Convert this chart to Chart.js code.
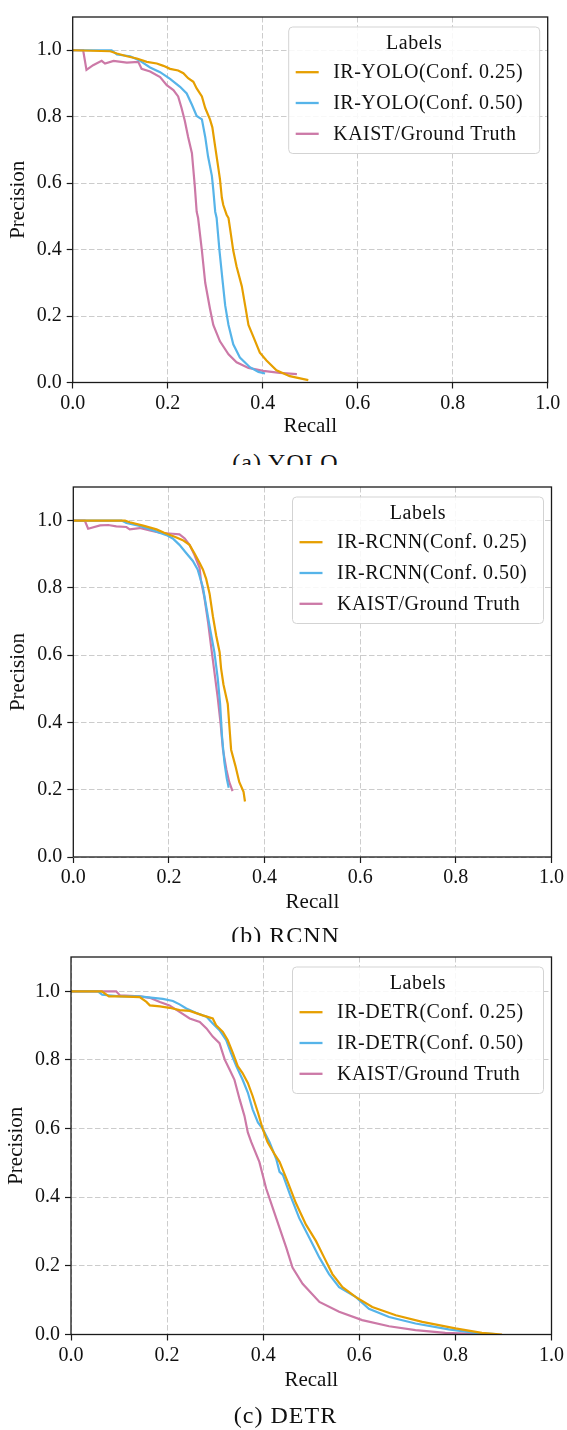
<!DOCTYPE html>
<html>
<head>
<meta charset="utf-8">
<script src="https://cdn.jsdelivr.net/npm/chart.js@4.4.1/dist/chart.umd.min.js"></script>
<style>
  html, body { margin: 0; padding: 0; background: #fff; }
  body { width: 567px; height: 1430px; position: relative; overflow: hidden; }
  canvas { position: absolute; left: 0; }
  .cap { position: absolute; left: 2px; width: 567px; text-align: center; overflow: hidden;
         font-family: "Liberation Serif", "Times New Roman", serif; font-size: 24px; line-height: 24px;
         letter-spacing: 1px; color: #111; white-space: nowrap; }
</style>
</head>
<body>
<canvas id="c1" width="567" height="448" style="top:0px"></canvas>
<div class="cap" style="top:450px;height:15px;">(a) YOLO</div>
<canvas id="c2" width="567" height="455" style="top:470px"></canvas>
<div class="cap" style="top:923px;height:19px;">(b) RCNN</div>
<canvas id="c3" width="567" height="462" style="top:940px"></canvas>
<div class="cap" style="top:1403px;height:30px;">(c) DETR</div>
<script>
// ---------- tick labels ----------
const xTicks = [0, 0.2, 0.4, 0.6, 0.8, 1.0];
const yTicks = [0, 0.2, 0.4, 0.6, 0.8, 1.0];
const legendTitle = 'Labels';
const xTitle = 'Recall';
const yTitle = 'Precision';

// ---------- (a) YOLO ----------
const yoloLabels = ['IR-YOLO(Conf. 0.25)', 'IR-YOLO(Conf. 0.50)', 'KAIST/Ground Truth'];
const yolo25R = [0, 0.079, 0.093, 0.114, 0.135, 0.156, 0.177, 0.191, 0.205, 0.222, 0.233, 0.243, 0.254, 0.261, 0.272, 0.279, 0.289, 0.294, 0.300, 0.305, 0.310, 0.314, 0.317, 0.324, 0.328, 0.331, 0.338, 0.345, 0.356, 0.363, 0.370, 0.380, 0.394, 0.408, 0.429, 0.457, 0.496];
const yolo25P = [1.0, 0.997, 0.990, 0.982, 0.975, 0.965, 0.960, 0.953, 0.944, 0.939, 0.931, 0.916, 0.905, 0.885, 0.861, 0.826, 0.792, 0.768, 0.709, 0.661, 0.612, 0.556, 0.534, 0.505, 0.495, 0.466, 0.397, 0.349, 0.290, 0.232, 0.173, 0.139, 0.090, 0.066, 0.037, 0.019, 0.007];
const yolo50R = [0, 0.082, 0.093, 0.121, 0.142, 0.163, 0.184, 0.205, 0.226, 0.240, 0.251, 0.261, 0.272, 0.279, 0.285, 0.293, 0.296, 0.300, 0.303, 0.309, 0.316, 0.321, 0.328, 0.338, 0.352, 0.373, 0.391, 0.405];
const yolo50P = [1.0, 1.0, 0.987, 0.982, 0.968, 0.948, 0.934, 0.914, 0.890, 0.870, 0.836, 0.802, 0.792, 0.739, 0.680, 0.622, 0.580, 0.514, 0.495, 0.397, 0.300, 0.232, 0.173, 0.115, 0.075, 0.046, 0.032, 0.027];
const yoloGtR = [0, 0.022, 0.029, 0.043, 0.061, 0.068, 0.086, 0.114, 0.138, 0.145, 0.163, 0.184, 0.198, 0.212, 0.222, 0.229, 0.236, 0.243, 0.251, 0.254, 0.257, 0.261, 0.264, 0.272, 0.279, 0.289, 0.296, 0.310, 0.328, 0.345, 0.370, 0.401, 0.436, 0.472];
const yoloGtP = [1.0, 1.0, 0.941, 0.955, 0.968, 0.960, 0.968, 0.963, 0.965, 0.944, 0.936, 0.919, 0.895, 0.880, 0.861, 0.827, 0.788, 0.739, 0.690, 0.641, 0.592, 0.514, 0.495, 0.397, 0.300, 0.222, 0.173, 0.124, 0.085, 0.061, 0.044, 0.035, 0.029, 0.025];

// ---------- (b) RCNN ----------
const rcnnLabels = ['IR-RCNN(Conf. 0.25)', 'IR-RCNN(Conf. 0.50)', 'KAIST/Ground Truth'];
const rcnn25R = [0, 0.108, 0.118, 0.146, 0.174, 0.190, 0.212, 0.229, 0.243, 0.253, 0.264, 0.271, 0.278, 0.285, 0.292, 0.299, 0.306, 0.309, 0.314, 0.323, 0.326, 0.330, 0.339, 0.347, 0.356, 0.359];
const rcnn25P = [1.0, 1.0, 0.995, 0.985, 0.974, 0.964, 0.952, 0.942, 0.928, 0.904, 0.875, 0.855, 0.826, 0.783, 0.715, 0.657, 0.609, 0.561, 0.513, 0.455, 0.397, 0.319, 0.271, 0.223, 0.194, 0.165];
const rcnn50R = [0, 0.101, 0.111, 0.139, 0.167, 0.195, 0.208, 0.222, 0.236, 0.250, 0.260, 0.271, 0.278, 0.285, 0.295, 0.302, 0.307, 0.311, 0.316, 0.321, 0.325];
const rcnn50P = [1.0, 1.0, 0.993, 0.984, 0.971, 0.957, 0.947, 0.928, 0.904, 0.880, 0.855, 0.802, 0.744, 0.686, 0.609, 0.532, 0.455, 0.358, 0.281, 0.233, 0.206];
const rcnnGtR = [0, 0.024, 0.031, 0.056, 0.073, 0.090, 0.111, 0.118, 0.139, 0.160, 0.181, 0.208, 0.222, 0.233, 0.243, 0.253, 0.264, 0.267, 0.274, 0.282, 0.288, 0.295, 0.302, 0.308, 0.313, 0.320, 0.326, 0.333];
const rcnnGtP = [1.0, 1.0, 0.976, 0.986, 0.987, 0.983, 0.981, 0.974, 0.978, 0.971, 0.964, 0.961, 0.959, 0.947, 0.928, 0.899, 0.860, 0.822, 0.773, 0.696, 0.628, 0.551, 0.474, 0.397, 0.319, 0.261, 0.223, 0.196];

// ---------- (c) DETR ----------
const detrLabels = ['IR-DETR(Conf. 0.25)', 'IR-DETR(Conf. 0.50)', 'KAIST/Ground Truth'];
const detr25R = [0, 0.064, 0.079, 0.102, 0.143, 0.157, 0.164, 0.185, 0.205, 0.226, 0.247, 0.274, 0.295, 0.302, 0.316, 0.326, 0.337, 0.347, 0.357, 0.368, 0.378, 0.389, 0.399, 0.409, 0.423, 0.434, 0.451, 0.468, 0.489, 0.510, 0.527, 0.544, 0.565, 0.593, 0.627, 0.676, 0.731, 0.800, 0.855, 0.897];
const detr25P = [1.0, 1.0, 0.985, 0.985, 0.983, 0.969, 0.959, 0.956, 0.952, 0.945, 0.943, 0.930, 0.921, 0.901, 0.882, 0.858, 0.820, 0.782, 0.762, 0.733, 0.695, 0.647, 0.599, 0.561, 0.527, 0.503, 0.445, 0.383, 0.320, 0.272, 0.224, 0.176, 0.138, 0.109, 0.080, 0.056, 0.037, 0.018, 0.005, 0.0];
const detr50R = [0, 0.056, 0.065, 0.102, 0.143, 0.171, 0.191, 0.212, 0.226, 0.240, 0.261, 0.282, 0.295, 0.309, 0.323, 0.333, 0.344, 0.357, 0.368, 0.378, 0.389, 0.399, 0.413, 0.427, 0.434, 0.441, 0.456, 0.475, 0.496, 0.517, 0.537, 0.558, 0.593, 0.620, 0.662, 0.717, 0.786, 0.842, 0.883];
const detr50P = [1.0, 1.0, 0.990, 0.985, 0.985, 0.981, 0.978, 0.972, 0.962, 0.950, 0.937, 0.926, 0.906, 0.887, 0.858, 0.820, 0.782, 0.743, 0.705, 0.656, 0.618, 0.599, 0.561, 0.512, 0.474, 0.465, 0.407, 0.339, 0.282, 0.224, 0.176, 0.138, 0.109, 0.075, 0.051, 0.032, 0.015, 0.005, 0.001];
const detrGtR = [0, 0.094, 0.102, 0.143, 0.164, 0.185, 0.205, 0.226, 0.247, 0.268, 0.282, 0.295, 0.309, 0.320, 0.330, 0.340, 0.351, 0.361, 0.368, 0.375, 0.392, 0.406, 0.420, 0.434, 0.448, 0.461, 0.482, 0.517, 0.558, 0.606, 0.662, 0.717, 0.779, 0.855];
const detrGtP = [1.0, 1.0, 0.988, 0.985, 0.981, 0.969, 0.959, 0.940, 0.921, 0.911, 0.892, 0.868, 0.849, 0.801, 0.772, 0.743, 0.685, 0.637, 0.589, 0.561, 0.503, 0.426, 0.368, 0.311, 0.253, 0.195, 0.148, 0.095, 0.066, 0.042, 0.024, 0.013, 0.005, 0.001];

const seriesColors = ['#E69F00', '#56B4E9', '#CC79A7'];

// ---------- drawing ----------
const FONT_FAMILY = '"Liberation Serif", "Times New Roman", serif';
const tickFont = { family: FONT_FAMILY, size: 20, lineHeight: 1.2 };
const titleFont = { family: FONT_FAMILY, size: 21, lineHeight: 1.2 };
const TEXT = '#111111';
const AXIS = '#1a1a1a';

const framePlugin = {
  id: 'frame',
  afterDatasetsDraw(chart) {
    const { ctx, chartArea: a } = chart;
    ctx.save();
    ctx.strokeStyle = AXIS;
    ctx.lineWidth = 1.3;
    ctx.strokeRect(a.left, a.top, a.right - a.left, a.bottom - a.top);
    ctx.restore();
  }
};

const boxLegend = {
  id: 'boxLegend',
  afterDraw(chart) {
    const { ctx, chartArea: a } = chart;
    const w = 251, h = 126.5;
    const x = a.right - 8 - w, y = a.top + 10;
    ctx.save();
    ctx.beginPath();
    ctx.roundRect(x, y, w, h, 4);
    ctx.fillStyle = 'rgba(255,255,255,0.85)';
    ctx.fill();
    ctx.strokeStyle = '#d3d3d3';
    ctx.lineWidth = 1;
    ctx.stroke();
    ctx.fillStyle = TEXT;
    ctx.font = '20px ' + FONT_FAMILY;
    try { ctx.letterSpacing = '0.5px'; } catch (e) {}
    ctx.textAlign = 'center';
    ctx.textBaseline = 'middle';
    ctx.fillText(legendTitle, x + w / 2, y + 17);
    ctx.textAlign = 'left';
    chart.data.datasets.forEach((ds, i) => {
      const ly = y + 45.2 + i * 30.8;
      ctx.strokeStyle = ds.borderColor;
      ctx.lineWidth = 2.3;
      ctx.beginPath();
      ctx.moveTo(x + 7, ly);
      ctx.lineTo(x + 30, ly);
      ctx.stroke();
      ctx.fillText(ds.label, x + 44.5, ly + 1);
    });
    ctx.restore();
  }
};

function makeChart(id, labels, rs, ps, lay) {
  const datasets = labels.map((lab, k) => ({
    label: lab,
    data: rs[k].map((r, i) => ({ x: r, y: ps[k][i] })),
    borderColor: seriesColors[k],
    backgroundColor: seriesColors[k],
    borderWidth: 2.2,
    pointRadius: 0,
    tension: 0,
    fill: false
  }));
  const gridOpts = { color: '#cccccc', lineWidth: 1, drawTicks: true, tickLength: 6, tickColor: AXIS, tickWidth: 1.2 };
  return new Chart(document.getElementById(id), {
    type: 'line',
    data: { datasets },
    options: {
      responsive: false,
      animation: false,
      devicePixelRatio: 1,
      layout: { padding: lay.pad },
      plugins: { legend: { display: false }, tooltip: { enabled: false } },
      scales: {
        x: {
          type: 'linear', min: 0, max: 1,
          afterFit: s => { s.height = lay.xh; },
          afterBuildTicks: s => { s.ticks = xTicks.map(v => ({ value: v })); },
          ticks: { callback: v => Number(v).toFixed(1), font: tickFont, color: TEXT, padding: 3, maxRotation: 0, autoSkip: false },
          grid: gridOpts,
          border: { display: false, dash: [5.5, 2.5] },
          title: { display: true, text: xTitle, font: titleFont, color: TEXT, padding: { top: 0, bottom: lay.xtb } }
        },
        y: {
          type: 'linear', min: 0, max: 1.1,
          afterFit: s => { s.width = lay.yw; },
          afterBuildTicks: s => { s.ticks = yTicks.map(v => ({ value: v })); },
          ticks: { callback: v => Number(v).toFixed(1), font: tickFont, color: TEXT, padding: 5, autoSkip: false },
          grid: gridOpts,
          border: { display: false, dash: [5.5, 2.5] },
          title: { display: true, text: yTitle, font: titleFont, color: TEXT, padding: { top: lay.ytp, bottom: 0 } }
        }
      }
    },
    plugins: [framePlugin, boxLegend]
  });
}

makeChart('c1', yoloLabels, [yolo25R, yolo50R, yoloGtR], [yolo25P, yolo50P, yoloGtP],
  { pad: { top: 6.2, right: 19.3, left: 0, bottom: 0 }, xh: 65.5, yw: 72.7, xtb: 8.7, ytp: 5.7 });
makeChart('c2', rcnnLabels, [rcnn25R, rcnn50R, rcnnGtR], [rcnn25P, rcnn50P, rcnnGtP],
  { pad: { top: 7.2, right: 13.7, left: 0, bottom: 0 }, xh: 68, yw: 73.3, xtb: 10.0, ytp: 6.2 });
makeChart('c3', detrLabels, [detr25R, detr50R, detrGtR], [detr25P, detr50P, detrGtP],
  { pad: { top: 12.8, right: 14, left: 0, bottom: 0 }, xh: 67.5, yw: 71, xtb: 9.0, ytp: 3.7 });
</script>
</body>
</html>
